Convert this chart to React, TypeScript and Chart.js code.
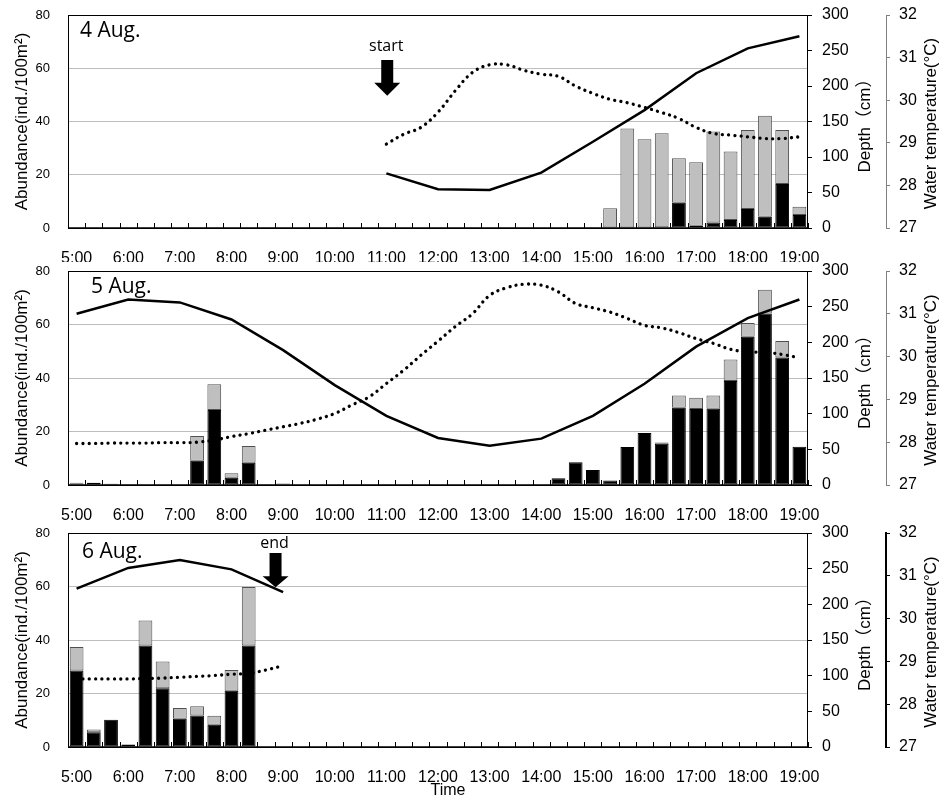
import React, { useEffect, useRef } from "react";
import { Chart, registerables } from "chart.js";
Chart.register(...registerables);

// ---------- categories (20-minute sampling) ----------
const times = [
  "5:00", "5:20", "5:40", "6:00", "6:20", "6:40", "7:00", "7:20", "7:40",
  "8:00", "8:20", "8:40", "9:00", "9:20", "9:40", "10:00", "10:20", "10:40",
  "11:00", "11:20", "11:40", "12:00", "12:20", "12:40", "13:00", "13:20", "13:40",
  "14:00", "14:20", "14:40", "15:00", "15:20", "15:40", "16:00", "16:20", "16:40",
  "17:00", "17:20", "17:40", "18:00", "18:20", "18:40", "19:00",
];
const hourLabels = ["5:00", "6:00", "7:00", "8:00", "9:00", "10:00", "11:00", "12:00", "13:00", "14:00", "15:00", "16:00", "17:00", "18:00", "19:00"];

const leftTicks = [0, 20, 40, 60, 80];
const depthTicks = [0, 50, 100, 150, 200, 250, 300];
const tempTicks = [27, 28, 29, 30, 31, 32];

const _ = null;

// ---------- 4 Aug. ----------
const aug4Black = [
  _, _, _, _, _, _, _, _, _, _,
  _, _, _, _, _, _, _, _, _, _,
  _, _, _, _, _, _, _, _, _, _,
  _, _, _, _, 0.3, 9.5, 0.8, 2.1, 3.0, 7.1,
  4.2, 16.5, 4.9,
];
const aug4Gray = [
  _, _, _, _, _, _, _, _, _, _,
  _, _, _, _, _, _, _, _, _, _,
  _, _, _, _, _, _, _, _, _, _,
  _, 7.4, 37.4, 33.3, 35.3, 16.7, 23.9, 34.1, 25.7, 29.7,
  38.0, 20.3, 3.1,
];
const aug4Depth = [
  _, _, _, _, _, _, _, _, _, _,
  _, _, _, _, _, _, _, _, 77, _,
  _, 54.5, _, _, 53.5, _, _, 78, _, _,
  121.5, _, _, 166, _, _, 218, _, _, 253,
  _, _, 270,
];
const aug4Temp = [
  _, _, _, _, _, _, _, _, _, _,
  _, _, _, _, _, _, _, _, 28.97, 29.2,
  29.36, 29.72, 30.22, 30.65, 30.83, 30.83, 30.7, 30.61, 30.56, 30.33,
  30.16, 30.02, 29.94, 29.83, 29.71, 29.57, 29.36, 29.22, 29.18, 29.14,
  29.1, 29.1, 29.14,
];

// ---------- 5 Aug. ----------
const aug5Black = [
  0.5, 0.8, 0.5, _, _, 0.2, 0.2, 9.1, 28.0, 2.7,
  8.3, 0.3, _, _, _, 0.2, 0.2, 0.1, 0.1, _,
  _, _, _, _, _, _, _, _, 2.5, 8.5,
  5.6, 1.7, 14.2, 19.4, 15.4, 28.9, 28.4, 28.5, 38.9, 55.4,
  64.1, 47.7, 14.3,
];
const aug5Gray = [
  0.3, _, _, 0.3, _, _, _, 9.2, 9.7, 1.7,
  6.3, _, 0.6, _, _, _, _, _, _, _,
  _, _, _, _, _, _, _, _, _, _,
  _, _, _, _, 0.5, 4.6, 4.2, 5.0, 8.0, 5.2,
  8.9, 6.1, _,
];
const aug5Depth = [
  240, _, _, 260, _, _, 256, _, _, 232,
  _, _, 189, _, _, 140, _, _, 97, _,
  _, 66, _, _, 55, _, _, 65, _, _,
  97, _, _, 142, _, _, 194, _, _, 234,
  _, _, 260,
];
const aug5Temp = [
  27.97, 27.97, 27.98, 27.98, 27.98, 27.99, 27.99, 28.0, 28.05, 28.13,
  28.2, 28.28, 28.36, 28.44, 28.54, 28.67, 28.87, 29.06, 29.37, 29.68,
  30.03, 30.36, 30.7, 31.0, 31.43, 31.61, 31.69, 31.67, 31.51, 31.24,
  31.14, 31.04, 30.89, 30.73, 30.67, 30.56, 30.42, 30.31, 30.17, 30.11,
  30.1, 30.05, 29.97,
];

// ---------- 6 Aug. ----------
const aug6Black = [
  28.6, 5.5, 10.2, 0.9, 37.9, 22.0, 10.6, 11.8, 8.3, 21.0,
  37.9, _, _, _, _, _, _, _, _, _,
  _, _, _, _, _, _, _, _, _, _,
  _, _, _, _, _, _, _, _, _, _,
  _, _, _,
];
const aug6Gray = [
  8.8, 1.0, _, _, 9.4, 10.0, 4.0, 3.4, 3.4, 7.8,
  21.9, _, _, _, _, _, _, _, _, _,
  _, _, _, _, _, _, _, _, _, _,
  _, _, _, _, _, _, _, _, _, _,
  _, _, _,
];
const aug6Depth = [
  222, _, _, 251, _, _, 262, _, _, 249,
  _, _, 217, _, _, _, _, _, _, _,
  _, _, _, _, _, _, _, _, _, _,
  _, _, _, _, _, _, _, _, _, _,
  _, _, _,
];
const aug6Temp = [
  28.59, 28.59, 28.59, 28.59, 28.6, 28.61, 28.63, 28.65, 28.67, 28.7,
  28.72, 28.8, 28.9, _, _, _, _, _, _, _,
  _, _, _, _, _, _, _, _, _, _,
  _, _, _, _, _, _, _, _, _, _,
  _, _, _,
];

// ---------- layout / annotation settings ----------
const TICK_FONT = "'Liberation Sans', Arial, 'Noto Sans CJK JP', sans-serif";
const NOTE_FONT = "'Open Sans', 'Noto Sans', sans-serif";

type Arrow = { label: string; at: number; top: number; head: number; tip: number; textAt: number };
type Panel = {
  top: number; h: number; padTop: number; xh: number;
  title: string; titleDx: number; titleDy: number;
  black: (number | null)[]; gray: (number | null)[];
  depth: (number | null)[]; temp: (number | null)[];
  arrow?: Arrow; tempAxisColor: string; tempAxisWidth: number; showTime: boolean;
};

const panels: Panel[] = [
  {
    top: 0, h: 262, padTop: 15, xh: 34, title: "4 Aug.", titleDx: 12, titleDy: 16,
    black: aug4Black, gray: aug4Gray, depth: aug4Depth, temp: aug4Temp,
    arrow: { label: "start", at: 18.05, top: 63.1, head: 54.6, tip: 49.7, textAt: 68.3 },
    tempAxisColor: "#808080", tempAxisWidth: 1, showTime: false,
  },
  {
    top: 250, h: 270, padTop: 21, xh: 35, title: "5 Aug.", titleDx: 23, titleDy: 16,
    black: aug5Black, gray: aug5Gray, depth: aug5Depth, temp: aug5Temp,
    tempAxisColor: "#808080", tempAxisWidth: 1, showTime: false,
  },
  {
    top: 510, h: 290, padTop: 23, xh: 53, title: "6 Aug.", titleDx: 14, titleDy: 19,
    black: aug6Black, gray: aug6Gray, depth: aug6Depth, temp: aug6Temp,
    arrow: { label: "end", at: 11.56, top: 72.5, head: 63.8, tip: 59.7, textAt: 76 },
    tempAxisColor: "#000000", tempAxisWidth: 2, showTime: true,
  },
];

function makeDecorPlugin(p: Panel) {
  return {
    id: "decor",
    afterDatasetsDraw(chart: any) {
      const { ctx, chartArea } = chart;
      const xs = chart.scales.x;
      const ys = chart.scales.y;
      const yd = chart.scales.yDepth;
      const yt = chart.scales.yTemp;
      ctx.save();
      // frame
      ctx.strokeStyle = "#000";
      ctx.lineWidth = 1;
      ctx.strokeRect(chartArea.left + 0.5, chartArea.top + 0.5, chartArea.right - chartArea.left - 1, chartArea.bottom - chartArea.top);
      ctx.lineWidth = 1.5;
      ctx.beginPath();
      ctx.moveTo(chartArea.left, chartArea.bottom);
      ctx.lineTo(chartArea.right, chartArea.bottom);
      ctx.stroke();
      // inner tick marks at category boundaries
      ctx.lineWidth = 1;
      ctx.beginPath();
      for (let i = 0; i <= times.length; i++) {
        const x = Math.round(xs.getPixelForValue(i - 0.5)) + 0.5;
        ctx.moveTo(x, chartArea.bottom);
        ctx.lineTo(x, chartArea.bottom - 5);
      }
      ctx.stroke();

      // axis titles
      ctx.fillStyle = "#000";
      ctx.font = `17px ${TICK_FONT}`;
      ctx.textAlign = "center";
      ctx.textBaseline = "middle";
      const cy = (chartArea.top + chartArea.bottom) / 2;
      const drawRot = (text: string, x: number, y: number) => {
        ctx.save();
        ctx.translate(x, y);
        ctx.rotate(-Math.PI / 2);
        ctx.fillText(text, 0, 0);
        ctx.restore();
      };
      drawRot("Abundance(ind./100m²)", ys.left + 22.5, cy);
      drawRot("Depth（cm）", yd.left + 57, cy);
      drawRot("Water temperature(°C)", yt.left + 45, cy + 2);

      if (p.showTime) {
        ctx.font = `16px ${TICK_FONT}`;
        ctx.fillText("Time", (chartArea.left + chartArea.right) / 2 + 10, xs.top + 44);
      }

      // panel label
      ctx.font = `21px ${NOTE_FONT}`;
      ctx.textAlign = "left";
      ctx.fillText(p.title, chartArea.left + p.titleDx, chartArea.top + p.titleDy);

      // arrow annotation
      if (p.arrow) {
        const a = p.arrow;
        const x = xs.getPixelForValue(a.at);
        const yTop = ys.getPixelForValue(a.top);
        const yHead = ys.getPixelForValue(a.head);
        const yTip = ys.getPixelForValue(a.tip);
        ctx.beginPath();
        ctx.moveTo(x - 6, yTop);
        ctx.lineTo(x + 6, yTop);
        ctx.lineTo(x + 6, yHead);
        ctx.lineTo(x + 13, yHead);
        ctx.lineTo(x, yTip);
        ctx.lineTo(x - 13, yHead);
        ctx.lineTo(x - 6, yHead);
        ctx.closePath();
        ctx.fill();
        ctx.font = `16px ${NOTE_FONT}`;
        ctx.textAlign = "center";
        ctx.fillText(a.label, x - 1, ys.getPixelForValue(a.textAt));
      }
      ctx.restore();
    },
  };
}

const noPadV = (w: number) => (s: any) => {
  s.width = w;
  s.paddingTop = 0;
  s.paddingBottom = 0;
};

function PanelChart({ p }: { p: Panel }) {
  const ref = useRef<HTMLCanvasElement>(null);
  useEffect(() => {
    const barCommon = { yAxisID: "y", stack: "s", order: 1, barPercentage: 0.8, categoryPercentage: 1, borderSkipped: false };
    const chart = new Chart(ref.current as HTMLCanvasElement, {
      type: "bar",
      data: {
        labels: times,
        datasets: [
          {
            type: "line", label: "Depth", data: p.depth, yAxisID: "yDepth", order: 0,
            borderColor: "#000", borderWidth: 2.5, pointRadius: 0, tension: 0, spanGaps: true,
          } as any,
          {
            type: "line", label: "Water temperature", data: p.temp, yAxisID: "yTemp", order: 0,
            borderColor: "#000", borderWidth: 3.3, borderDash: [0.01, 6.3], borderCapStyle: "round",
            pointRadius: 0, tension: 0.4,
          } as any,
          { ...barCommon, type: "bar", label: "black", data: p.black, backgroundColor: "#000", borderColor: "#000", borderWidth: 1 } as any,
          { ...barCommon, type: "bar", label: "gray", data: p.gray, backgroundColor: "#bfbfbf", borderColor: "#505050", borderWidth: 1 } as any,
        ],
      },
      options: {
        responsive: false,
        animation: false,
        events: [],
        layout: { padding: { top: p.padTop, left: 0, right: 0, bottom: 0 } },
        plugins: { legend: { display: false }, tooltip: { enabled: false }, title: { display: false } },
        scales: {
          x: {
            type: "category", offset: true, stacked: true,
            grid: { display: false, offset: true },
            border: { display: false },
            ticks: {
              autoSkip: false, maxRotation: 0, minRotation: 0, padding: 13, color: "#000",
              font: { family: TICK_FONT, size: 16 },
              callback: (_v: any, i: number) => (hourLabels.includes(times[i]) ? times[i] : ""),
            },
            afterFit: (s: any) => { s.height = p.xh; s.paddingLeft = 0; s.paddingRight = 0; },
          },
          y: {
            position: "left", stacked: true, min: leftTicks[0], max: leftTicks[leftTicks.length - 1],
            ticks: { stepSize: 20, padding: 18, color: "#000", font: { family: TICK_FONT, size: 13 } },
            grid: {
              drawTicks: false, lineWidth: 1,
              color: (c: any) => (c.tick && (c.tick.value === 0 || c.tick.value === 80) ? "rgba(0,0,0,0)" : "#bdbdbd"),
            },
            border: { display: false },
            afterFit: noPadV(68),
          },
          yDepth: {
            position: "right", min: depthTicks[0], max: depthTicks[depthTicks.length - 1],
            ticks: { stepSize: 50, padding: 10, color: "#000", font: { family: TICK_FONT, size: 16 } },
            grid: { drawOnChartArea: false, drawTicks: true, tickLength: 4, color: "#000" },
            border: { display: false },
            afterFit: noPadV(78),
          },
          yTemp: {
            position: "right", min: tempTicks[0], max: tempTicks[tempTicks.length - 1],
            ticks: { stepSize: 1, padding: 9, color: "#000", font: { family: TICK_FONT, size: 16 } },
            grid: { drawOnChartArea: false, drawTicks: true, tickLength: 4, color: p.tempAxisColor },
            border: { display: true, color: p.tempAxisColor, width: p.tempAxisWidth },
            afterFit: noPadV(53),
          },
        },
      } as any,
      plugins: [makeDecorPlugin(p)],
    });
    return () => chart.destroy();
  }, [p]);
  return (
    <canvas
      ref={ref}
      width={939}
      height={p.h}
      style={{ position: "absolute", left: 0, top: p.top, width: 939, height: p.h, display: "block" }}
    />
  );
}

export default function App() {
  return (
    <div style={{ position: "absolute", left: 0, top: 0, width: 939, height: 800, background: "#fff" }}>
      {panels.map((p) => (
        <PanelChart key={p.title} p={p} />
      ))}
    </div>
  );
}
